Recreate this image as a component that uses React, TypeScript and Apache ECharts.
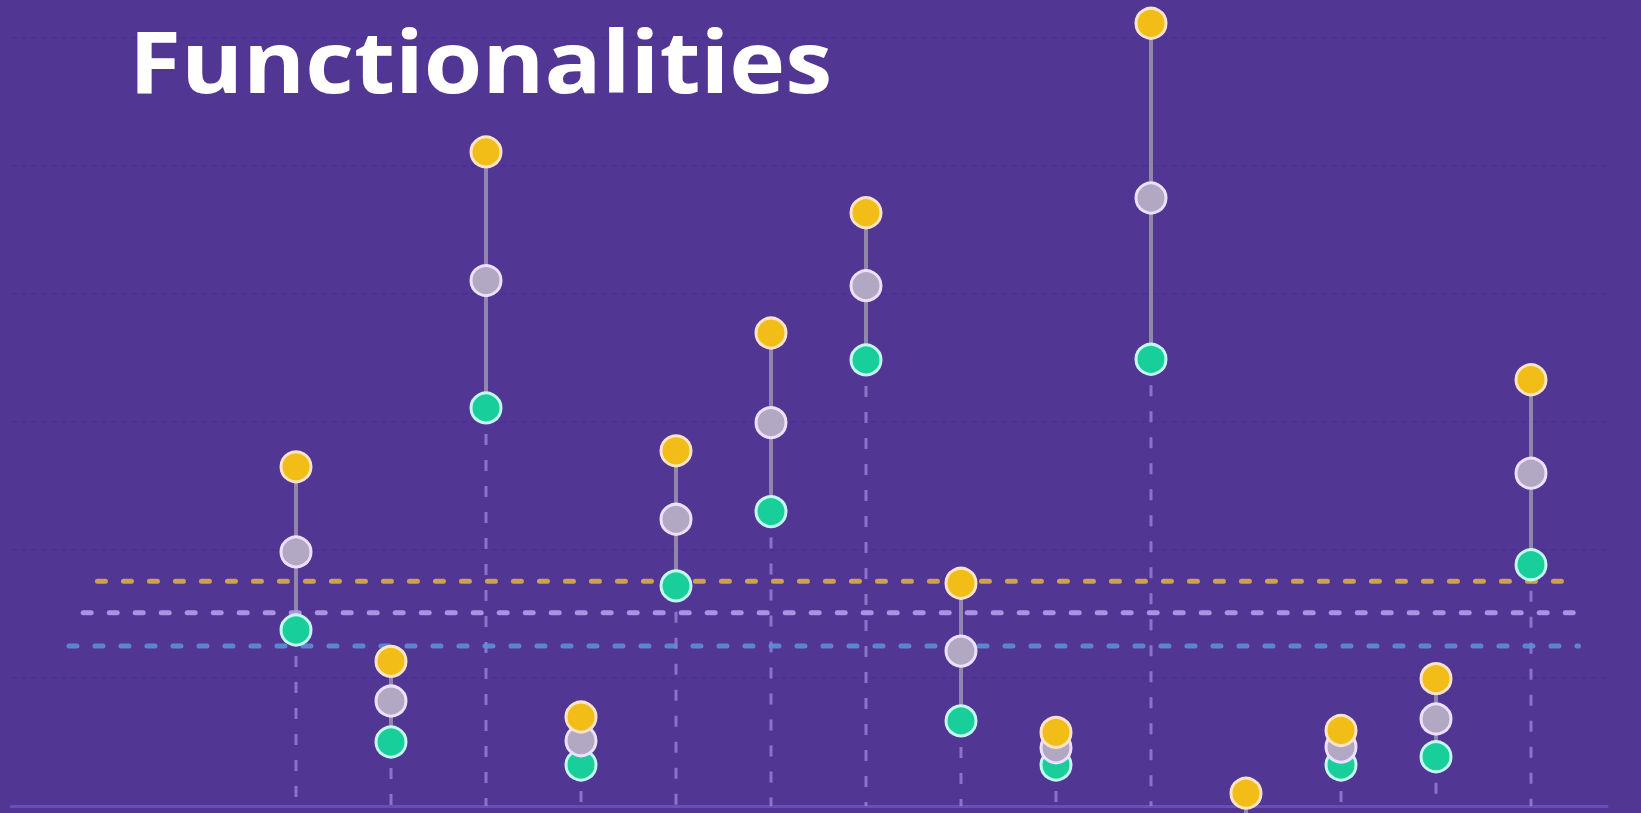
import React, { useEffect, useRef } from "react";
import * as echarts from "echarts";

// Feature columns (x position = index)
const categories = ["F1", "F2", "F3", "F4", "F5", "F6", "F7", "F8", "F9", "F10", "F11", "F12", "F13", "F14"];
// Upper (yellow), middle (gray), lower (teal) scores per column
const yellowValues = [53.0, 22.6, 102.2, 13.9, 55.5, 73.9, 92.7, 34.8, 11.5, 122.3, 2.0, 11.8, 19.9, 66.6];
const grayValues = [39.7, 16.4, 82.1, 10.2, 44.8, 59.9, 81.3, 24.2, 9.1, 95.0, -4.0, 9.2, 13.6, 52.0];
const tealValues = [27.5, 10.0, 62.2, 6.4, 34.4, 46.0, 69.7, 13.3, 6.4, 69.8, -10.0, 6.4, 7.7, 37.7];
// Reference (average) levels
const referenceNames = ["yellow avg", "gray avg", "teal avg"];
const referenceValues = [35.1, 30.2, 25.0];
const title = "Functionalities";

export default function App() {
  const ref = useRef<HTMLDivElement>(null);

  useEffect(() => {
    if (!ref.current) return;
    const chart = echarts.init(ref.current, undefined, { renderer: "svg" });

    const idx = categories.map((_, i) => i);
    const refStarts = [-2.09, -2.24, -2.39];
    const refEnd = 13.5;
    const refColors = ["#d9ae45", "#b79ced", "#5d8ed8"];

    const markerSeries = (name: string, values: number[], fill: string, border: string, z: number) => ({
      type: "scatter",
      name,
      data: idx.map((i) => [i, values[i]]),
      symbol: "circle",
      symbolSize: 30,
      clip: false,
      z,
      itemStyle: { color: fill, borderColor: border, borderWidth: 3, opacity: 1 },
      emphasis: { disabled: true },
    });

    const option: any = {
      animation: false,
      backgroundColor: "#513693",
      grid: { left: 11, right: 34, top: 38, bottom: 7, containLabel: false },
      xAxis: {
        type: "value",
        min: -3,
        max: 13.8,
        axisLine: { show: true, lineStyle: { color: "#6a4cbd", width: 3 } },
        axisTick: { show: false },
        axisLabel: { show: false },
        splitLine: { show: false },
      },
      yAxis: {
        type: "value",
        min: 0,
        max: 120,
        interval: 20,
        axisLine: { show: false },
        axisTick: { show: false },
        axisLabel: { show: false },
        splitLine: { show: true, lineStyle: { color: "rgba(70,42,165,0.45)", width: 2, type: [6, 4] } },
      },
      graphic: [
        {
          type: "text",
          x: 129,
          y: 59,
          scaleX: 1.1,
          z: 100,
          style: {
            text: title,
            fill: "#ffffff",
            font: "bold 86px 'Open Sans', sans-serif",
            verticalAlign: "middle",
            align: "left",
          },
        },
      ],
      series: [
        {
          type: "custom",
          name: "stems",
          z: 1,
          clip: false,
          data: idx.map((i) => [i, yellowValues[i], tealValues[i]]),
          encode: { x: 0, y: [1, 2] },
          renderItem: (params: any, api: any) => {
            const x = api.value(0);
            const top = api.coord([x, api.value(1)]);
            const bot = api.coord([x, api.value(2)]);
            const zero = api.coord([x, 0]);
            return {
              type: "group",
              children: [
                {
                  type: "line",
                  shape: { x1: bot[0], y1: bot[1], x2: zero[0], y2: zero[1] },
                  style: { stroke: "rgba(178,156,240,0.6)", lineWidth: 3, lineDash: [11, 15] },
                },
                {
                  type: "line",
                  shape: { x1: top[0], y1: top[1], x2: bot[0], y2: bot[1] },
                  style: { stroke: "#8f86aa", lineWidth: 4 },
                },
              ],
            };
          },
        },
        ...referenceValues.map((v, k) => ({
          type: "line",
          name: referenceNames[k],
          data: [
            [refStarts[k], v],
            [refEnd, v],
          ],
          showSymbol: false,
          symbol: "none",
          z: 2,
          silent: true,
          lineStyle: { color: refColors[k], width: 5, type: [8, 18], cap: "round", opacity: 0.9 },
        })),
        markerSeries("lower", tealValues, "#18cf9c", "#c4f7ef", 3),
        markerSeries("middle", grayValues, "#b2a8c4", "#ece0ff", 4),
        markerSeries("upper", yellowValues, "#f2bd17", "#fae4c8", 5),
      ],
    };

    chart.setOption(option);
    return () => chart.dispose();
  }, []);

  return (
    <div
      ref={ref}
      style={{ position: "fixed", left: 0, top: 0, width: 1641, height: 813 }}
    />
  );
}
